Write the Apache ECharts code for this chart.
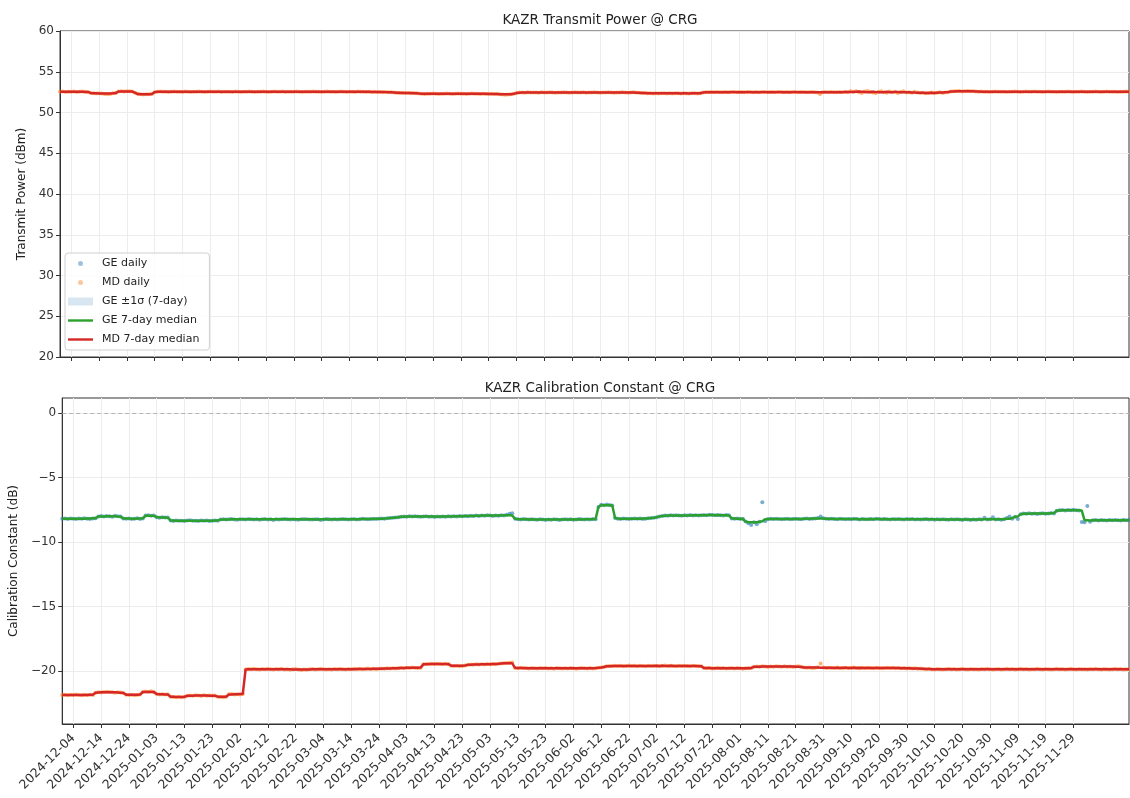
<!DOCTYPE html>
<html>
<head>
<meta charset="utf-8">
<script src="https://cdn.jsdelivr.net/npm/echarts@6/dist/echarts.min.js"></script>
<style>
  html, body { margin: 0; padding: 0; background: #fff; }
  #chart { width: 1130px; height: 798px; }
</style>
</head>
<body>
<div id="chart"></div>
<script>
// daily values, one per day starting 2024-11-30
const startDay = Date.UTC(2024, 10, 30);

const tickLabels = [
  '2024-12-04', '2024-12-14', '2024-12-24', '2025-01-03', '2025-01-13', '2025-01-23',
  '2025-02-02', '2025-02-12', '2025-02-22', '2025-03-04', '2025-03-14', '2025-03-24',
  '2025-04-03', '2025-04-13', '2025-04-23', '2025-05-03', '2025-05-13', '2025-05-23',
  '2025-06-02', '2025-06-12', '2025-06-22', '2025-07-02', '2025-07-12', '2025-07-22',
  '2025-08-01', '2025-08-11', '2025-08-21', '2025-08-31', '2025-09-10', '2025-09-20',
  '2025-09-30', '2025-10-10', '2025-10-20', '2025-10-30', '2025-11-09', '2025-11-19',
  '2025-11-29'
];
const calTicks = [-20, -15, -10, -5, 0];

// MD transmit power (dBm)
const txMD = [
  52.55,52.58,52.53,52.56,52.54,52.57,52.52,52.55,52.58,52.54,
  52.53,52.40,52.36,52.34,52.37,52.33,52.26,52.24,52.27,52.35,
  52.38,52.58,52.61,52.59,52.62,52.60,52.57,52.42,52.26,52.24,
  52.22,52.25,52.23,52.27,52.50,52.55,52.57,52.54,52.56,52.53,
  52.55,52.58,52.54,52.56,52.53,52.57,52.55,52.52,52.56,52.54,
  52.57,52.55,52.53,52.56,52.58,52.54,52.55,52.57,52.53,52.56,
  52.54,52.56,52.53,52.57,52.55,52.52,52.56,52.54,52.58,52.55,
  52.53,52.56,52.54,52.57,52.55,52.53,52.56,52.58,52.54,52.55,
  52.57,52.53,52.55,52.56,52.54,52.58,52.55,52.52,52.56,52.54,
  52.55,52.57,52.54,52.56,52.53,52.55,52.58,52.54,52.56,52.53,
  52.55,52.57,52.54,52.52,52.56,52.55,52.53,52.57,52.54,52.56,
  52.53,52.55,52.52,52.54,52.51,52.53,52.50,52.52,52.49,52.47,
  52.45,52.42,52.40,52.41,52.38,52.40,52.37,52.39,52.36,52.32,
  52.30,52.28,52.31,52.29,52.32,52.30,52.27,52.31,52.29,52.33,
  52.31,52.28,52.30,52.32,52.29,52.31,52.28,52.30,52.33,52.29,
  52.31,52.28,52.30,52.27,52.29,52.31,52.26,52.28,52.24,52.22,
  52.19,52.21,52.25,52.30,52.38,52.44,52.46,52.43,52.47,52.45,
  52.44,52.46,52.43,52.47,52.45,52.44,52.48,52.45,52.43,52.46,
  52.44,52.47,52.45,52.43,52.46,52.48,52.44,52.45,52.47,52.43,
  52.46,52.44,52.48,52.45,52.43,52.46,52.44,52.47,52.45,52.43,
  52.46,52.44,52.47,52.45,52.43,52.46,52.48,52.44,52.42,52.40,
  52.38,52.36,52.35,52.33,52.36,52.34,52.37,52.35,52.33,52.36,
  52.34,52.37,52.35,52.33,52.36,52.34,52.32,52.35,52.37,52.34,
  52.36,52.46,52.50,52.48,52.51,52.49,52.52,52.50,52.48,52.51,
  52.49,52.52,52.50,52.48,52.51,52.53,52.49,52.50,52.52,52.48,
  52.51,52.49,52.52,52.50,52.48,52.51,52.53,52.49,52.50,52.52,
  52.48,52.51,52.49,52.52,52.50,52.48,52.51,52.53,52.49,52.50,
  52.52,52.48,52.45,52.28,52.47,52.51,52.49,52.52,52.50,52.48,
  52.51,52.49,52.52,52.50,52.60,52.55,52.62,52.48,52.40,52.58,
  52.63,52.52,52.45,52.38,52.56,52.61,52.50,52.42,52.57,52.47,
  52.55,52.39,52.52,52.60,52.44,52.49,52.41,52.54,52.46,52.38,
  52.43,52.36,52.40,52.45,52.38,52.42,52.47,52.40,52.44,52.50,
  52.58,52.62,52.60,52.63,52.59,52.61,52.64,52.60,52.62,52.58,
  52.55,52.57,52.54,52.56,52.53,52.55,52.58,52.54,52.56,52.55,
  52.53,52.56,52.54,52.57,52.55,52.53,52.56,52.58,52.54,52.55,
  52.57,52.54,52.56,52.53,52.55,52.58,52.54,52.56,52.53,52.55,
  52.56,52.54,52.57,52.55,52.53,52.56,52.54,52.58,52.55,52.53,
  52.56,52.54,52.57,52.55,52.53,52.56,52.58,52.54,52.56,52.55,
  52.53,52.56,52.54,52.57,52.55
];

// GE calibration constant (dB)
const calGE = [
  -8.21,-8.19,-8.22,-8.18,-8.20,-8.23,-8.19,-8.21,-8.17,-8.20,
  -8.22,-8.19,-8.16,-8.02,-7.99,-8.03,-7.98,-8.01,-8.04,-7.97,
  -8.00,-8.03,-8.18,-8.21,-8.19,-8.22,-8.20,-8.17,-8.23,-8.19,
  -7.96,-7.93,-7.97,-7.95,-8.08,-8.12,-8.09,-8.11,-8.10,-8.34,
  -8.37,-8.33,-8.36,-8.35,-8.38,-8.34,-8.32,-8.36,-8.35,-8.37,
  -8.33,-8.36,-8.34,-8.38,-8.35,-8.33,-8.36,-8.26,-8.24,-8.27,
  -8.25,-8.23,-8.26,-8.28,-8.24,-8.25,-8.27,-8.22,-8.25,-8.26,
  -8.24,-8.28,-8.25,-8.23,-8.26,-8.25,-8.29,-8.24,-8.26,-8.25,
  -8.22,-8.25,-8.27,-8.24,-8.26,-8.28,-8.25,-8.23,-8.25,-8.27,
  -8.26,-8.24,-8.25,-8.29,-8.26,-8.23,-8.25,-8.27,-8.24,-8.26,
  -8.25,-8.22,-8.24,-8.27,-8.25,-8.23,-8.26,-8.24,-8.21,-8.23,
  -8.25,-8.22,-8.20,-8.23,-8.21,-8.18,-8.20,-8.17,-8.15,-8.13,
  -8.10,-8.08,-8.05,-8.02,-8.04,-8.01,-8.03,-8.00,-8.02,-8.05,
  -8.03,-8.01,-8.04,-8.02,-8.06,-8.03,-8.05,-8.02,-8.04,-8.01,
  -8.03,-8.00,-8.02,-7.99,-8.01,-7.98,-8.00,-7.97,-7.99,-7.96,
  -7.98,-7.95,-7.97,-7.94,-7.96,-7.98,-7.95,-7.97,-7.94,-7.96,
  -7.90,-7.82,-7.78,-8.20,-8.24,-8.26,-8.23,-8.25,-8.27,-8.24,
  -8.26,-8.28,-8.25,-8.27,-8.30,-8.26,-8.28,-8.25,-8.27,-8.29,
  -8.26,-8.24,-8.27,-8.25,-8.28,-8.26,-8.23,-8.25,-8.27,-8.24,
  -8.26,-8.22,-8.25,-7.30,-7.12,-7.15,-7.10,-7.14,-7.18,-8.15,
  -8.20,-8.22,-8.19,-8.21,-8.23,-8.20,-8.18,-8.21,-8.19,-8.22,
  -8.20,-8.17,-8.15,-8.12,-8.08,-8.02,-7.98,-7.95,-7.97,-7.94,
  -7.96,-7.93,-7.95,-7.97,-7.94,-7.96,-7.92,-7.95,-7.93,-7.96,
  -7.94,-7.91,-7.93,-7.90,-7.92,-7.94,-7.91,-7.93,-7.95,-7.92,
  -7.94,-8.18,-8.21,-8.19,-8.22,-8.20,-8.42,-8.55,-8.68,-8.47,
  -8.62,-8.44,-6.92,-8.40,-8.24,-8.21,-8.23,-8.20,-8.22,-8.25,
  -8.23,-8.21,-8.24,-8.22,-8.20,-8.23,-8.25,-8.21,-8.19,-8.22,
  -8.20,-8.18,-8.15,-8.02,-8.17,-8.21,-8.23,-8.20,-8.22,-8.24,
  -8.21,-8.23,-8.25,-8.22,-8.24,-8.21,-8.23,-8.26,-8.22,-8.24,
  -8.25,-8.22,-8.24,-8.21,-8.23,-8.25,-8.22,-8.24,-8.26,-8.23,
  -8.25,-8.22,-8.24,-8.27,-8.23,-8.25,-8.22,-8.26,-8.24,-8.27,
  -8.25,-8.23,-8.26,-8.24,-8.28,-8.25,-8.27,-8.24,-8.26,-8.28,
  -8.25,-8.27,-8.24,-8.26,-8.29,-8.25,-8.27,-8.30,-8.26,-8.28,
  -8.25,-8.27,-8.12,-8.26,-8.24,-8.08,-8.27,-8.25,-8.28,-8.24,
  -8.14,-8.02,-8.20,-8.05,-8.22,-7.85,-7.80,-7.82,-7.78,-7.81,
  -7.79,-7.83,-7.80,-7.77,-7.81,-7.79,-7.76,-7.80,-7.58,-7.55,
  -7.53,-7.56,-7.52,-7.55,-7.50,-7.54,-7.57,-8.45,-8.48,-7.22,
  -8.44,-8.32,-8.30,-8.33,-8.29,-8.31,-8.34,-8.30,-8.32,-8.29,
  -8.31,-8.33,-8.30,-8.32,-8.29
];

// MD calibration constant (dB)
const calMD = [
  -21.85,-21.83,-21.87,-21.84,-21.86,-21.82,-21.85,-21.88,-21.84,-21.86,
  -21.83,-21.85,-21.68,-21.64,-21.66,-21.62,-21.60,-21.63,-21.65,-21.67,
  -21.64,-21.66,-21.70,-21.84,-21.86,-21.83,-21.87,-21.85,-21.82,-21.62,
  -21.58,-21.61,-21.57,-21.63,-21.78,-21.81,-21.79,-21.82,-21.80,-21.98,
  -22.01,-22.03,-21.99,-22.02,-22.00,-21.91,-21.89,-21.92,-21.88,-21.90,
  -21.93,-21.87,-21.91,-21.89,-21.92,-21.90,-21.98,-22.01,-22.03,-21.99,
  -21.80,-21.78,-21.82,-21.79,-21.81,-21.77,-19.88,-19.84,-19.86,-19.83,
  -19.85,-19.87,-19.84,-19.86,-19.82,-19.85,-19.88,-19.84,-19.86,-19.83,
  -19.87,-19.85,-19.89,-19.86,-19.84,-19.88,-19.91,-19.87,-19.89,-19.86,
  -19.84,-19.87,-19.85,-19.83,-19.86,-19.88,-19.85,-19.87,-19.84,-19.86,
  -19.83,-19.85,-19.87,-19.84,-19.86,-19.82,-19.85,-19.83,-19.86,-19.84,
  -19.81,-19.84,-19.82,-19.85,-19.83,-19.80,-19.82,-19.79,-19.81,-19.78,
  -19.80,-19.77,-19.75,-19.78,-19.74,-19.76,-19.73,-19.75,-19.77,-19.74,
  -19.48,-19.45,-19.47,-19.44,-19.46,-19.43,-19.45,-19.47,-19.44,-19.46,
  -19.58,-19.61,-19.59,-19.62,-19.60,-19.57,-19.52,-19.49,-19.51,-19.48,
  -19.50,-19.47,-19.49,-19.46,-19.48,-19.45,-19.47,-19.44,-19.42,-19.40,
  -19.37,-19.35,-19.34,-19.76,-19.78,-19.75,-19.79,-19.77,-19.80,-19.76,
  -19.78,-19.81,-19.77,-19.79,-19.76,-19.80,-19.78,-19.82,-19.77,-19.79,
  -19.81,-19.78,-19.80,-19.77,-19.79,-19.82,-19.78,-19.76,-19.79,-19.81,
  -19.77,-19.80,-19.78,-19.75,-19.72,-19.68,-19.62,-19.60,-19.63,-19.59,
  -19.61,-19.58,-19.62,-19.60,-19.57,-19.61,-19.59,-19.62,-19.58,-19.60,
  -19.63,-19.59,-19.61,-19.58,-19.60,-19.62,-19.59,-19.57,-19.61,-19.58,
  -19.60,-19.62,-19.59,-19.61,-19.58,-19.60,-19.63,-19.59,-19.61,-19.60,
  -19.62,-19.77,-19.79,-19.76,-19.80,-19.78,-19.75,-19.79,-19.77,-19.81,
  -19.78,-19.76,-19.80,-19.77,-19.79,-19.82,-19.78,-19.76,-19.79,-19.66,
  -19.64,-19.67,-19.63,-19.65,-19.68,-19.64,-19.66,-19.62,-19.65,-19.67,
  -19.63,-19.66,-19.64,-19.68,-19.65,-19.63,-19.67,-19.72,-19.75,-19.73,
  -19.76,-19.74,-19.70,-19.42,-19.73,-19.76,-19.74,-19.77,-19.75,-19.73,
  -19.76,-19.78,-19.74,-19.77,-19.75,-19.73,-19.76,-19.78,-19.75,-19.77,
  -19.74,-19.76,-19.78,-19.75,-19.77,-19.79,-19.76,-19.74,-19.77,-19.75,
  -19.78,-19.76,-19.79,-19.77,-19.80,-19.78,-19.81,-19.79,-19.82,-19.80,
  -19.84,-19.86,-19.83,-19.85,-19.87,-19.84,-19.86,-19.88,-19.85,-19.83,
  -19.86,-19.84,-19.87,-19.85,-19.83,-19.86,-19.88,-19.84,-19.86,-19.85,
  -19.87,-19.84,-19.86,-19.83,-19.85,-19.88,-19.86,-19.84,-19.87,-19.85,
  -19.83,-19.86,-19.84,-19.87,-19.85,-19.82,-19.86,-19.84,-19.88,-19.85,
  -19.86,-19.83,-19.85,-19.87,-19.84,-19.86,-19.88,-19.85,-19.83,-19.86,
  -19.84,-19.87,-19.85,-19.83,-19.86,-19.88,-19.84,-19.86,-19.85,-19.87,
  -19.84,-19.86,-19.83,-19.85,-19.87,-19.84,-19.86,-19.88,-19.85,-19.83,
  -19.86,-19.84,-19.87,-19.85,-19.86
];

const DAY = 86400000;
const nDays = 385;
const dates = Array.from({ length: nDays }, (_, i) => startDay + i * DAY);
const xMin = dates[0];
const xMax = dates[nDays - 1];
const tickValues = tickLabels.map((s) => Date.parse(s + 'T00:00:00Z'));

// 7-day centred window helpers
const win = (arr, i) => arr.slice(Math.max(0, i - 3), i + 4);
const median = (w) => {
  const s = [...w].sort((a, b) => a - b);
  const n = s.length;
  return n % 2 ? s[(n - 1) / 2] : (s[n / 2 - 1] + s[n / 2]) / 2;
};
const std = (w) => {
  const m = w.reduce((a, b) => a + b, 0) / w.length;
  return Math.sqrt(w.reduce((a, b) => a + (b - m) * (b - m), 0) / w.length);
};
const pairs = (arr) => arr.map((v, i) => [dates[i], v]);
const rollMedian = (arr) => arr.map((_, i) => [dates[i], median(win(arr, i))]);
const bandLow = (arr) => arr.map((_, i) => [dates[i], median(win(arr, i)) - std(win(arr, i))]);
const bandWidth = (arr) => arr.map((_, i) => [dates[i], 2 * std(win(arr, i))]);

const FONT = 'DejaVu Sans';
const minus = (v) => (v < 0 ? '\u2212' + (-v) : String(v));
const fmtDate = (v) => new Date(v).toISOString().slice(0, 10);
// invisible moveTo corners keep the icon at full item size
const dotIcon = 'path://M0,0M25,8M10,4a2.5,2.5 0 1 0 5,0a2.5,2.5 0 1 0 -5,0z';
const lineIcon = 'path://M0,0M25,8M0,2.8h25v2.4h-25z';

// x is a plain value axis holding UTC timestamps
const xAxisBase = {
  type: 'value',
  min: xMin,
  max: xMax,
  axisLine: { onZero: false, lineStyle: { color: '#333', width: 1 } },
  axisTick: { show: true, length: 4, customValues: tickValues, lineStyle: { color: '#333' } },
  splitLine: { show: true, lineStyle: { color: '#ececec', width: 1 } },
};

const yAxisBase = {
  type: 'value',
  nameLocation: 'middle',
  nameTextStyle: { fontFamily: FONT, fontSize: 12, color: '#222' },
  axisLine: { show: true, onZero: false, lineStyle: { color: '#333' } },
  axisTick: { show: true, length: 4, lineStyle: { color: '#333' } },
  axisLabel: { fontFamily: FONT, fontSize: 12, color: '#333', margin: 6, formatter: minus },
  splitLine: { show: true, lineStyle: { color: '#ececec', width: 1 } },
};

const chart = echarts.init(document.getElementById('chart'), null, { renderer: 'canvas' });

chart.setOption({
  animation: false,
  backgroundColor: '#fff',
  title: [
    {
      text: 'KAZR Transmit Power @ CRG',
      left: 595, top: 8, textAlign: 'center',
      textStyle: { fontFamily: FONT, fontSize: 13.5, fontWeight: 'normal', color: '#222' },
    },
    {
      text: 'KAZR Calibration Constant @ CRG',
      left: 595, top: 376, textAlign: 'center',
      textStyle: { fontFamily: FONT, fontSize: 13.5, fontWeight: 'normal', color: '#222' },
    },
  ],
  legend: {
    orient: 'vertical',
    left: 65,
    top: 253,
    itemWidth: 25,
    itemHeight: 8,
    itemGap: 8,
    padding: [5, 10, 5, 3],
    backgroundColor: 'rgba(255,255,255,0.85)',
    borderColor: '#d0d0d0',
    borderWidth: 1,
    borderRadius: 3,
    textStyle: { fontFamily: FONT, fontSize: 11, color: '#222', padding: [0, 0, 0, 4] },
    data: [
      { name: 'GE daily', icon: dotIcon, itemStyle: { color: '#5b97c9' } },
      { name: 'MD daily', icon: dotIcon, itemStyle: { color: '#f6a35e' } },
      { name: 'GE \u00b11\u03c3 (7-day)', icon: 'rect', itemStyle: { color: '#d8e6f2' } },
      { name: 'GE 7-day median', icon: lineIcon, itemStyle: { color: '#2ca02c' } },
      { name: 'MD 7-day median', icon: lineIcon, itemStyle: { color: '#d62728' } },
    ],
  },
  grid: [
    { left: 60, top: 31, width: 1069, height: 326, show: true, borderColor: '#333', borderWidth: 1 },
    { left: 60, top: 398, width: 1069, height: 326, show: true, borderColor: '#333', borderWidth: 1 },
  ],
  xAxis: [
    { ...xAxisBase, gridIndex: 0, axisLabel: { show: false, customValues: tickValues } },
    {
      ...xAxisBase,
      gridIndex: 1,
      axisLabel: {
        show: true, customValues: tickValues, rotate: 45, margin: 12,
        fontFamily: FONT, fontSize: 12.5, color: '#333', formatter: fmtDate,
      },
    },
  ],
  yAxis: [
    {
      ...yAxisBase, gridIndex: 0, min: 20, max: 60, interval: 5,
      name: 'Transmit Power (dBm)', nameGap: 27,
    },
    {
      ...yAxisBase, gridIndex: 1, min: -24.1, max: 1.15,
      name: 'Calibration Constant (dB)', nameGap: 34,
      axisTick: { ...yAxisBase.axisTick, customValues: calTicks },
      axisLabel: { ...yAxisBase.axisLabel, customValues: calTicks },
    },
  ],
  series: [
    // top panel
    {
      name: 'MD daily', type: 'scatter', xAxisIndex: 0, yAxisIndex: 0,
      data: pairs(txMD), symbolSize: 4, z: 2,
      itemStyle: { color: '#ff7f0e', opacity: 0.6 },
    },
    {
      name: 'MD 7-day median', type: 'line', xAxisIndex: 0, yAxisIndex: 0,
      data: rollMedian(txMD), symbol: 'none', z: 5,
      lineStyle: { color: '#d62728', width: 2.5 }, itemStyle: { color: '#d62728' },
    },
    // bottom panel
    {
      name: 'GE daily', type: 'scatter', xAxisIndex: 1, yAxisIndex: 1,
      data: pairs(calGE), symbolSize: 4, z: 2,
      itemStyle: { color: '#1f77b4', opacity: 0.6 },
    },
    {
      name: 'MD daily', type: 'scatter', xAxisIndex: 1, yAxisIndex: 1,
      data: pairs(calMD), symbolSize: 4, z: 2,
      itemStyle: { color: '#ff7f0e', opacity: 0.6 },
    },
    {
      name: 'ge-band-low', type: 'line', xAxisIndex: 1, yAxisIndex: 1,
      stack: 'ge', stackStrategy: 'all', data: bandLow(calGE), symbol: 'none', z: 1,
      lineStyle: { opacity: 0 },
    },
    {
      name: 'GE \u00b11\u03c3 (7-day)', type: 'line', xAxisIndex: 1, yAxisIndex: 1,
      stack: 'ge', stackStrategy: 'all', data: bandWidth(calGE), symbol: 'none', z: 1,
      lineStyle: { opacity: 0 }, itemStyle: { color: '#d8e6f2' },
      areaStyle: { color: 'rgba(31,119,180,0.2)' },
    },
    {
      name: 'md-band-low', type: 'line', xAxisIndex: 1, yAxisIndex: 1,
      stack: 'md', stackStrategy: 'all', data: bandLow(calMD), symbol: 'none', z: 1,
      lineStyle: { opacity: 0 },
    },
    {
      name: 'md-band', type: 'line', xAxisIndex: 1, yAxisIndex: 1,
      stack: 'md', stackStrategy: 'all', data: bandWidth(calMD), symbol: 'none', z: 1,
      lineStyle: { opacity: 0 },
      areaStyle: { color: 'rgba(255,127,14,0.18)' },
    },
    {
      name: 'GE 7-day median', type: 'line', xAxisIndex: 1, yAxisIndex: 1,
      data: rollMedian(calGE), symbol: 'none', z: 5,
      lineStyle: { color: '#2ca02c', width: 2.5 }, itemStyle: { color: '#2ca02c' },
      markLine: {
        silent: true, symbol: ['none', 'none'], label: { show: false },
        lineStyle: { color: '#b5b5b5', type: [4, 3], width: 1 },
        emphasis: { disabled: true },
        data: [{ yAxis: 0 }],
      },
    },
    {
      name: 'MD 7-day median', type: 'line', xAxisIndex: 1, yAxisIndex: 1,
      data: rollMedian(calMD), symbol: 'none', z: 5,
      lineStyle: { color: '#d62728', width: 2.5 }, itemStyle: { color: '#d62728' },
    },
  ],
});

window.addEventListener('resize', () => chart.resize());
</script>
</body>
</html>
